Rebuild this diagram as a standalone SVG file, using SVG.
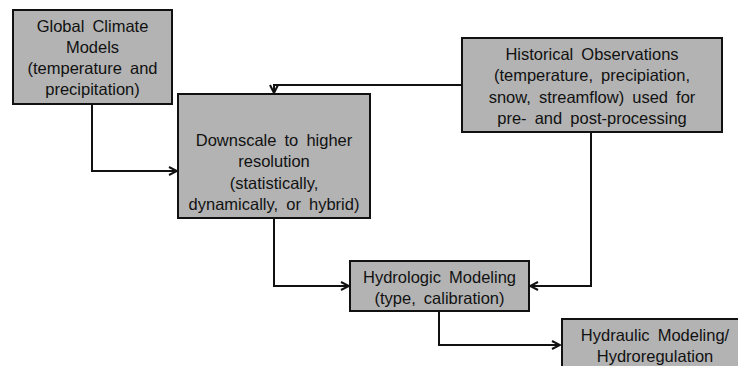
<svg xmlns="http://www.w3.org/2000/svg" width="738" height="366" viewBox="0 0 738 366">
<defs>
<style>
.box{fill:#b3b3b3;stroke:#111;stroke-width:2}
.t{font-family:"Liberation Sans",Arial,sans-serif;font-size:16.5px;fill:#111;text-anchor:middle;word-spacing:3.5px}
.c{fill:none;stroke:#111;stroke-width:2}
</style>
<marker id="ah" viewBox="0 0 10 10" refX="9" refY="5" markerWidth="10" markerHeight="10" markerUnits="userSpaceOnUse" orient="auto">
<path d="M1,1 L9,5 L1,9" fill="none" stroke="#111" stroke-width="2"/>
</marker>
</defs>
<rect width="738" height="366" fill="#fff"/>
<g id="connectors">
<path class="c" d="M92,104 V171 H177" marker-end="url(#ah)"/>
<path class="c" d="M462,85 H274 V93" marker-end="url(#ah)"/>
<path class="c" d="M274,218 V286 H349" marker-end="url(#ah)"/>
<path class="c" d="M591,132 V286 H530" marker-end="url(#ah)"/>
<path class="c" d="M439,311 V345 H560" marker-end="url(#ah)"/>
</g>
<g id="gcm">
<rect class="box" x="13" y="10" width="159" height="94"/>
<text class="t" x="92.5" y="32">Global Climate</text>
<text class="t" x="92.5" y="53">Models</text>
<text class="t" x="92.5" y="74">(temperature and</text>
<text class="t" x="92.5" y="95">precipitation)</text>
</g>
<g id="downscale">
<rect class="box" x="178" y="94" width="192" height="124"/>
<text class="t" x="274" y="145.5">Downscale to higher</text>
<text class="t" x="274" y="167">resolution</text>
<text class="t" x="274" y="188.5">(statistically,</text>
<text class="t" x="274" y="209.5">dynamically, or hybrid)</text>
</g>
<g id="historical">
<rect class="box" x="462" y="38" width="260" height="94"/>
<text class="t" x="592" y="60">Historical Observations</text>
<text class="t" x="592" y="81">(temperature, precipiation,</text>
<text class="t" x="592" y="102.5">snow, streamflow) used for</text>
<text class="t" x="592" y="123.5">pre- and post-processing</text>
</g>
<g id="hydrologic">
<rect class="box" x="350" y="261" width="179" height="50"/>
<text class="t" x="439.5" y="282.5">Hydrologic Modeling</text>
<text class="t" x="439.5" y="304">(type, calibration)</text>
</g>
<g id="hydraulic">
<rect class="box" x="562" y="319" width="186" height="60"/>
<text class="t" x="655" y="341">Hydraulic Modeling/</text>
<text class="t" x="655" y="361.5">Hydroregulation</text>
</g>
</svg>
